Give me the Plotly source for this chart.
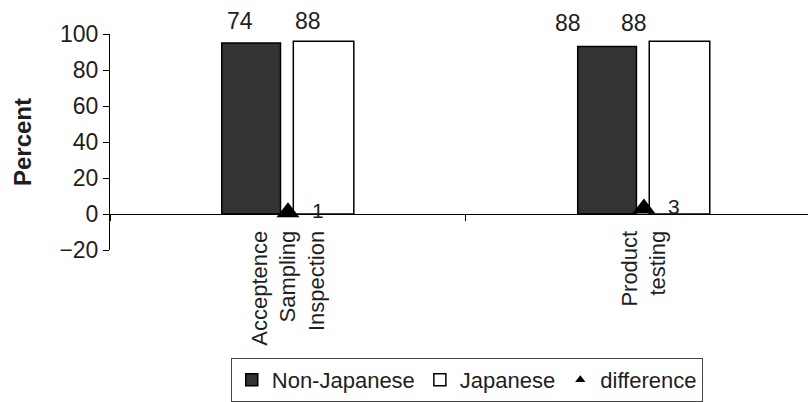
import plotly.graph_objects as go

# Data
categories = ["Acceptence<br>Sampling<br>Inspection", "Product<br>testing"]
non_japanese = [95, 93]      # percent
japanese = [96, 96]          # percent
difference = [1, 3]          # percentage points
n_non_japanese = [74, 88]    # respondents
n_japanese = [88, 88]
y_ticks = [-20, 0, 20, 40, 60, 80, 100]

FONT = "Liberation Sans, Arial, sans-serif"
FS = 23
DARK = "#333333"
TXT = "#1e1e1e"

fig = go.Figure()

fig.add_bar(
    x=categories, y=non_japanese, name="Non-Japanese",
    width=0.165, offset=-0.186,
    marker=dict(color=DARK, line=dict(color="black", width=1.5)),
)
fig.add_bar(
    x=categories, y=japanese, name="Japanese",
    width=0.17, offset=0.015,
    marker=dict(color="white", line=dict(color="black", width=1.5)),
)
fig.add_scatter(
    x=categories, y=difference, mode="markers", name="difference",
    marker=dict(symbol="triangle-up", size=20, color="black"),
    showlegend=False,
)
# small legend entry for the difference markers
fig.add_scatter(
    x=[None], y=[None], mode="markers", name="difference",
    marker=dict(symbol="triangle-up", size=9, color="black"),
)

annotations = []
# respondent counts above each bar
n_dx = [(-0.135, 0.056), (-0.213, -0.028)]
for i in range(len(categories)):
    top = max(non_japanese[i], japanese[i])
    for j, n in enumerate((n_non_japanese[i], n_japanese[i])):
        annotations.append(dict(
            x=i + n_dx[i][j], y=top, xref="x", yref="y",
            text=str(n), showarrow=False, yanchor="bottom",
            yshift=5 if i == 0 else 3,
            font=dict(family=FONT, size=FS, color=TXT),
        ))
# difference values next to the markers
for i, d in enumerate(difference):
    annotations.append(dict(
        x=i, y=d, xref="x", yref="y", text=str(d), showarrow=False,
        xshift=30, yshift=2,
        font=dict(family=FONT, size=FS - 2, color=TXT),
    ))

fig.update_layout(
    width=808, height=402,
    margin=dict(l=110, r=0, t=34, b=150),
    paper_bgcolor="white", plot_bgcolor="white",
    barmode="overlay",
    font=dict(family=FONT, size=FS, color=TXT),
    showlegend=True,
    legend=dict(
        orientation="h", x=0.173, xanchor="left", y=-0.5, yanchor="top",
        bordercolor="#444", borderwidth=1,
        font=dict(family=FONT, size=22, color=TXT),
        itemwidth=30, tracegroupgap=0,
    ),
    annotations=annotations,
)

fig.update_xaxes(
    type="category", range=[-0.5, 1.461],
    anchor="free", position=20 / 120,
    showline=True, linecolor="black", linewidth=1,
    ticks="outside", tickson="boundaries", ticklen=6, tickcolor="black",
    tickangle=-90, ticklabelstandoff=7,
    showgrid=False, zeroline=False,
    tickfont=dict(family=FONT, size=22, color=TXT),
)
fig.update_yaxes(
    range=[-20, 100], tickvals=y_ticks,
    showline=True, linecolor="black", linewidth=1,
    ticks="outside", ticklen=6, tickcolor="black",
    showgrid=False, zeroline=False,
    tickfont=dict(family=FONT, size=FS, color=TXT),
    title=dict(text="<b>Percent</b>", standoff=20,
               font=dict(family=FONT, size=24, color=TXT)),
)

fig.write_html("out.html")
